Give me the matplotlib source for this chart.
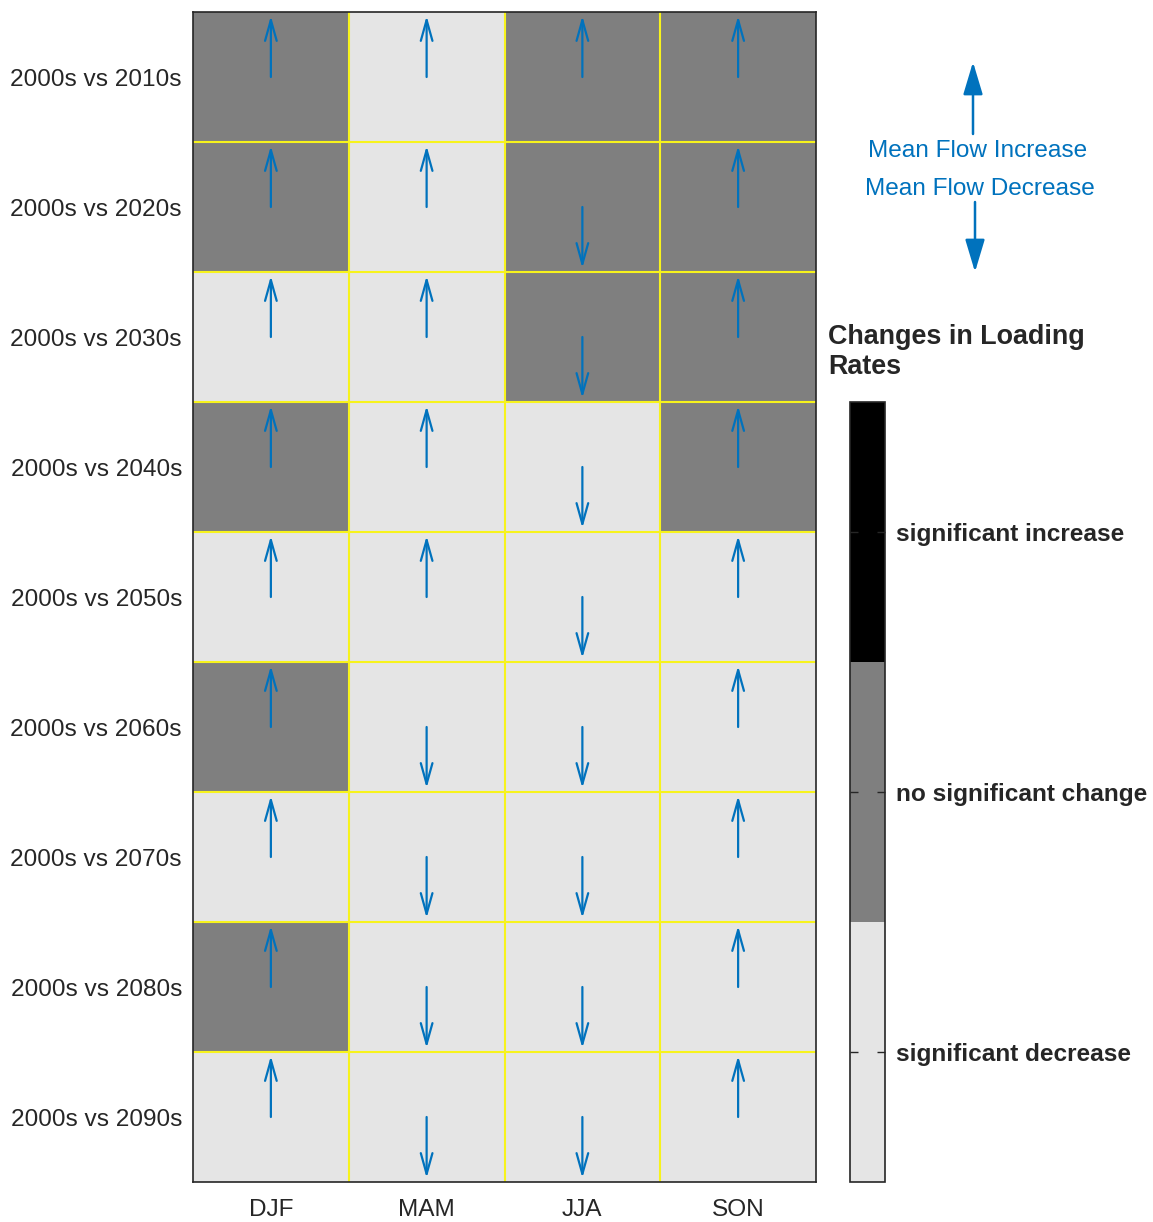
import numpy as np
import matplotlib.pyplot as plt
from matplotlib.colors import ListedColormap, BoundaryNorm

plt.rcParams['font.family'] = ['Liberation Sans', 'DejaVu Sans']

# rows = decade comparisons, columns = seasons
periods = ['2000s vs 2010s', '2000s vs 2020s', '2000s vs 2030s', '2000s vs 2040s',
           '2000s vs 2050s', '2000s vs 2060s', '2000s vs 2070s', '2000s vs 2080s',
           '2000s vs 2090s']
seasons = ['DJF', 'MAM', 'JJA', 'SON']

# loading rate change class: 0 = significant decrease, 1 = no significant change, 2 = significant increase
loading = [
    [1, 0, 1, 1],
    [1, 0, 1, 1],
    [0, 0, 1, 1],
    [1, 0, 0, 1],
    [0, 0, 0, 0],
    [1, 0, 0, 0],
    [0, 0, 0, 0],
    [1, 0, 0, 0],
    [0, 0, 0, 0],
]

# mean flow direction: +1 increase, -1 decrease
flow = [
    [1, 1, 1, 1],
    [1, 1, -1, 1],
    [1, 1, -1, 1],
    [1, 1, -1, 1],
    [1, 1, -1, 1],
    [1, -1, -1, 1],
    [1, -1, -1, 1],
    [1, -1, -1, 1],
    [1, -1, -1, 1],
]

class_labels = ['significant decrease', 'no significant change', 'significant increase']
class_colors = ['#e5e5e5', '#7f7f7f', '#000000']

blue = '#0072BD'
txt = '#262626'
fs = 17.6

W, H = 1153, 1222
fig = plt.figure(figsize=(W / 100, H / 100), dpi=100)

ax = fig.add_axes([193 / W, 1 - 1182 / H, 623 / W, 1170 / H])
cax = fig.add_axes([850 / W, 1 - 1182 / H, 35 / W, 780 / H])

cmap = ListedColormap(class_colors)
norm = BoundaryNorm([-0.5, 0.5, 1.5, 2.5], cmap.N)

Z = np.array(loading)
F = np.array(flow)
nrow, ncol = Z.shape

mesh = ax.pcolormesh(np.arange(ncol + 1) - 0.5, np.arange(nrow + 1) - 0.5, Z,
                     cmap=cmap, norm=norm)
# yellow cell borders (interior only, the frame is black)
ax.vlines(np.arange(1, ncol) - 0.5, -0.5, nrow - 0.5, color='#f7f31c', lw=1.5)
ax.hlines(np.arange(1, nrow) - 0.5, -0.5, ncol - 0.5, color='#f7f31c', lw=1.5)
ax.set_xlim(-0.5, ncol - 0.5)
ax.set_ylim(nrow - 0.5, -0.5)

# flow arrows: start in the cell centre, point to the top or bottom edge
for i in range(nrow):
    for j in range(ncol):
        d = F[i, j]
        ax.annotate('', xy=(j, i - d * 0.47), xytext=(j, i),
                    arrowprops=dict(arrowstyle='->,head_length=1.5,head_width=0.42',
                                    color=blue, lw=1.6, shrinkA=0, shrinkB=0,
                                    mutation_scale=10))

ax.set_xticks(range(ncol))
ax.set_xticklabels(seasons, fontsize=fs, color=txt)
ax.set_yticks(range(nrow))
ax.set_yticklabels(periods, fontsize=fs, color=txt)
ax.tick_params(length=0)
ax.tick_params(axis='x', pad=12)
ax.tick_params(axis='y', pad=8)
for s in ax.spines.values():
    s.set_linewidth(1.2)
    s.set_color('#262626')
    s.set_zorder(5)

# colorbar
cb = fig.colorbar(mesh, cax=cax, ticks=[0, 1, 2])
cb.ax.set_yticklabels(class_labels, fontsize=fs, fontweight='bold', color=txt)
cb.ax.minorticks_off()
cb.outline.set_linewidth(1.2)
cb.outline.set_edgecolor('#262626')
cax.tick_params(which='major', direction='in', left=True, right=True, length=6,
                width=1, color='#262626', pad=8)

fig.text(828 / W, 1 - 352 / H, 'Changes in Loading\nRates', fontsize=19.4,
         fontweight='bold', color=txt, ha='left', va='center', linespacing=1.25)

# flow arrow key
ax.annotate('', xy=(973 / W, 1 - 62 / H), xytext=(973 / W, 1 - 134 / H),
            xycoords='figure fraction', textcoords='figure fraction',
            arrowprops=dict(arrowstyle='-|>,head_length=2.0,head_width=0.6',
                            color=blue, lw=1.8, shrinkA=0, shrinkB=0,
                            mutation_scale=10),
            annotation_clip=False)
ax.annotate('', xy=(975 / W, 1 - 272 / H), xytext=(975 / W, 1 - 202 / H),
            xycoords='figure fraction', textcoords='figure fraction',
            arrowprops=dict(arrowstyle='-|>,head_length=2.0,head_width=0.6',
                            color=blue, lw=1.8, shrinkA=0, shrinkB=0,
                            mutation_scale=10),
            annotation_clip=False)
fig.text(978 / W, 1 - 151 / H, 'Mean Flow Increase', fontsize=fs, color=blue,
         ha='center', va='center')
fig.text(980 / W, 1 - 189 / H, 'Mean Flow Decrease', fontsize=fs, color=blue,
         ha='center', va='center')

fig.savefig('out.png', dpi=100)
